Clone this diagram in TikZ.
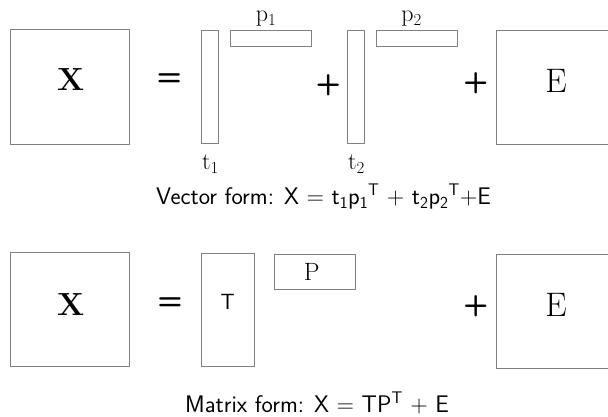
\documentclass[tikz,border=0pt]{standalone}

\begin{document}
\begin{tikzpicture}[x=1pt, y=-1pt,
    mat/.style={draw=gray, line width=1pt, inner sep=0pt},
    oper/.style={inner sep=0pt, font=\fontsize{29}{31}\selectfont\sffamily\bfseries},
    matlbl/.style={inner sep=0pt, font=\fontsize{34}{36}\selectfont},
    veclbl/.style={inner sep=0pt, font=\fontsize{24}{26}\selectfont},
    formula/.style={inner sep=0pt, anchor=base west, font=\fontsize{24}{26}\selectfont\sffamily}]
  \clip (0,0) rectangle (608,417);

  % Vector form
  \node[mat, minimum width=119, minimum height=115] (X1) at (69.8,86.7) {};
  \node[inner sep=0pt, font=\fontsize{32}{34}\selectfont\bfseries] (X1lbl) at (70.7,80) {X};
  \node[oper] (eq1) at (169.3,80) {=};
  \node[mat, minimum width=16.5, minimum height=113.3] (t1) at (210.2,87.3) {};
  \node[mat, minimum width=80.5, minimum height=16] (p1) at (270.8,38.7) {};
  \node[veclbl] (p1lbl) at (266,18.5) {p\textsubscript{1}};
  \node[veclbl] (t1lbl) at (210.5,164) {t\textsubscript{1}};
  \node[oper] (plus1) at (328.3,85) {+};
  \node[mat, minimum width=16.5, minimum height=113.3] (t2) at (356,87.3) {};
  \node[mat, minimum width=80.5, minimum height=16] (p2) at (417,38.7) {};
  \node[veclbl] (p2lbl) at (411.5,18.5) {p\textsubscript{2}};
  \node[veclbl] (t2lbl) at (356.5,164) {t\textsubscript{2}};
  \node[oper] (plus2) at (475.7,83.3) {+};
  \node[mat, minimum width=119, minimum height=114] (E1) at (555.5,88) {};
  \node[matlbl] (E1lbl) at (556,80.7) {E};
  \node[formula] (vecform) at (156,204.5)
    {Vector form: X = t\textsubscript{1}p\textsubscript{1}\textsuperscript{T} + t\textsubscript{2}p\textsubscript{2}\textsuperscript{T}+E};

  % Matrix form
  \node[mat, minimum width=119, minimum height=114.4] (X2) at (69.8,309.5) {};
  \node[inner sep=0pt, font=\fontsize{32}{34}\selectfont\bfseries] (X2lbl) at (70.7,305) {X};
  \node[oper] (eq2) at (170,303.3) {=};
  \node[mat, minimum width=53.3, minimum height=112.7] (T) at (228.3,310.3) {};
  \node[inner sep=0pt, font=\fontsize{22}{24}\selectfont\sffamily] (Tlbl) at (227.7,301.7) {T};
  \node[mat, minimum width=81.4, minimum height=35] (P) at (315,271.8) {};
  \node[inner sep=0pt, font=\fontsize{25}{27}\selectfont] (Plbl) at (311.7,271.7) {P};
  \node[oper] (plus3) at (475.7,306.7) {+};
  \node[mat, minimum width=119, minimum height=114] (E2) at (555.5,311.3) {};
  \node[matlbl] (E2lbl) at (556,305) {E};
  \node[formula] (matform) at (185,412.5)
    {Matrix form: X = TP\textsuperscript{T} + E};
\end{tikzpicture}
\end{document}
